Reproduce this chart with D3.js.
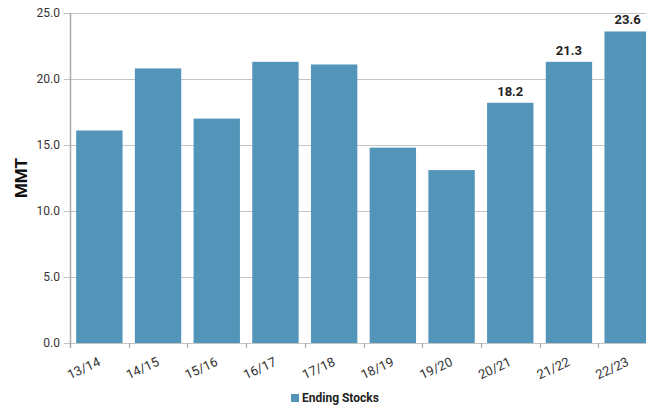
<!DOCTYPE html>
<html>
<head>
<meta charset="utf-8">
<script src="https://cdn.jsdelivr.net/npm/d3@7"></script>
<style>
  html, body { margin: 0; padding: 0; background: #fff; }
  svg { display: block; font-family: Roboto, "Liberation Sans", Arial, sans-serif; }
</style>
</head>
<body>
<svg id="chart" width="646" height="409"></svg>
<script>
// Marketing years and ending stocks (million metric tonnes)
const years = ["13/14", "14/15", "15/16", "16/17", "17/18", "18/19", "19/20", "20/21", "21/22", "22/23"];
const endingStocks = [16.1, 20.8, 17.0, 21.3, 21.1, 14.8, 13.1, 18.2, 21.3, 23.6];
const labelledYears = ["20/21", "21/22", "22/23"];
const yTicks = [0, 5, 10, 15, 20, 25];
const seriesName = "Ending Stocks";

const svg = d3.select("#chart");
const margin = { left: 70, top: 13, bottom: 343 };
const step = 58.7;

const x = d3.scaleBand()
  .domain(years)
  .range([margin.left, margin.left + step * years.length])
  .paddingInner(0.21)
  .paddingOuter(0.105);

const y = d3.scaleLinear().domain([0, 25]).range([margin.bottom, margin.top]);

const barColor = "#5394b9";

// Horizontal grid lines
svg.append("g")
  .selectAll("line")
  .data(yTicks)
  .join("line")
  .attr("x1", margin.left - 6)
  .attr("x2", 646)
  .attr("y1", d => Math.round(y(d)) + 0.5)
  .attr("y2", d => Math.round(y(d)) + 0.5)
  .attr("stroke", "#c4c4c4")
  .attr("stroke-width", 1.2);

// Y tick labels
svg.append("g")
  .selectAll("text")
  .data(yTicks)
  .join("text")
  .attr("x", margin.left - 10)
  .attr("y", d => y(d))
  .attr("dy", "0.35em")
  .attr("text-anchor", "end")
  .attr("font-size", 12)
  .attr("fill", "#333")
  .text(d => d3.format(".1f")(d));

// Bars
svg.append("g")
  .selectAll("rect")
  .data(years.map((yr, i) => ({ yr, v: endingStocks[i] })))
  .join("rect")
  .attr("x", d => x(d.yr))
  .attr("width", x.bandwidth())
  .attr("y", d => y(d.v))
  .attr("height", d => y(0) - y(d.v))
  .attr("fill", barColor);

// Value labels on the latest years
svg.append("g")
  .selectAll("text")
  .data(years.map((yr, i) => ({ yr, v: endingStocks[i] })).filter(d => labelledYears.includes(d.yr)))
  .join("text")
  .attr("x", d => x(d.yr) + x.bandwidth() / 2)
  .attr("y", d => y(d.v) - 7)
  .attr("text-anchor", "middle")
  .attr("font-size", 13)
  .attr("font-weight", "bold")
  .attr("fill", "#222")
  .text(d => d3.format(".1f")(d.v));

// Left axis line
svg.append("line")
  .attr("x1", margin.left + 0.5).attr("x2", margin.left + 0.5)
  .attr("y1", margin.top).attr("y2", margin.bottom + 5)
  .attr("stroke", "#aaa").attr("stroke-width", 1.5);

// X tick marks at band boundaries
const boundaries = years.map((yr, i) => margin.left + step * (i + 1));
svg.append("g")
  .selectAll("line")
  .data(boundaries)
  .join("line")
  .attr("x1", d => Math.round(d) + 0.5).attr("x2", d => Math.round(d) + 0.5)
  .attr("y1", margin.bottom).attr("y2", margin.bottom + 5)
  .attr("stroke", "#aaa").attr("stroke-width", 1.2);

// Rotated x labels
svg.append("g")
  .selectAll("text")
  .data(years)
  .join("text")
  .attr("transform", d => `translate(${x(d) + x.bandwidth() / 2 + 2},${margin.bottom + 22}) rotate(-25)`)
  .attr("text-anchor", "end")
  .attr("font-size", 13)
  .attr("fill", "#333")
  .text(d => d);

// Y axis title
svg.append("text")
  .attr("transform", `translate(27,${(margin.top + margin.bottom) / 2}) rotate(-90)`)
  .attr("text-anchor", "middle")
  .attr("font-size", 17)
  .attr("font-weight", "bold")
  .attr("fill", "#111")
  .text("MMT");

// Legend
const legend = svg.append("g").attr("transform", "translate(291,394)");
legend.append("rect").attr("width", 8).attr("height", 8).attr("fill", barColor);
legend.append("text")
  .attr("x", 11).attr("y", 4).attr("dy", "0.35em")
  .attr("font-size", 12).attr("font-weight", "bold").attr("fill", "#222")
  .text(seriesName);
</script>
</body>
</html>
